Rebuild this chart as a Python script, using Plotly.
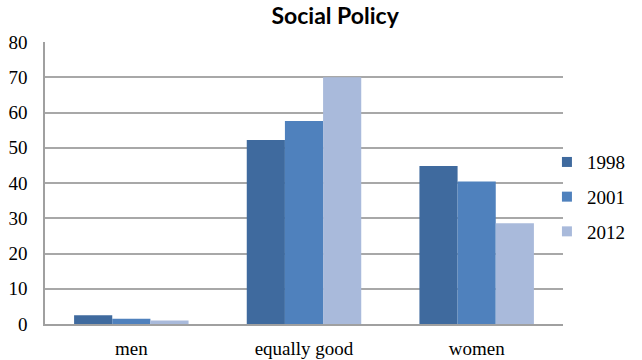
import plotly.graph_objects as go

categories = ["men", "equally good", "women"]
years = ["1998", "2001", "2012"]
v1998 = [2.5, 52.2, 44.8]
v2001 = [1.5, 57.6, 40.4]
v2012 = [1.0, 70.0, 28.6]
colors = ["#3F6A9E", "#4F81BD", "#A9BADB"]

fig = go.Figure()
for name, vals, c in zip(years, [v1998, v2001, v2012], colors):
    fig.add_trace(go.Bar(x=categories, y=vals, name=name, marker_color=c, marker_line_width=0,
                         showlegend=False))
for name, c in zip(years, colors):
    fig.add_trace(go.Scatter(x=[None], y=[None], mode="markers", name=name, legendgroup=name,
                             marker=dict(symbol="square", size=10, color=c)))

fig.update_layout(
    width=642, height=360,
    margin=dict(l=45, r=77, t=42, b=36),
    paper_bgcolor="white", plot_bgcolor="white",
    barmode="group", bargap=0.337, bargroupgap=0,
    title=dict(text="<b>Social Policy</b>", x=0.522, xanchor="center", y=0.978, yanchor="top",
               font=dict(family="Lato", size=23, color="black")),
    font=dict(family="Liberation Serif", size=19, color="black"),
    legend=dict(x=0.969, xanchor="left", y=0.45, yanchor="middle", font=dict(size=19),
                bgcolor="rgba(0,0,0,0)", itemwidth=30, tracegroupgap=7, traceorder="grouped"),
    xaxis=dict(showline=True, linecolor="#A0A0A0", linewidth=1.5, ticks="", tickfont=dict(size=19),
               automargin=False, ticklabelstandoff=6),
    yaxis=dict(range=[0, 80], dtick=10, showgrid=True, gridcolor="#A8A8A8", gridwidth=1.5,
               showline=True, linecolor="#A0A0A0", linewidth=1.5, ticks="", automargin=False,
               ticklabelstandoff=12, zeroline=False, tickfont=dict(size=19)),
)
fig.write_html("out.html")
